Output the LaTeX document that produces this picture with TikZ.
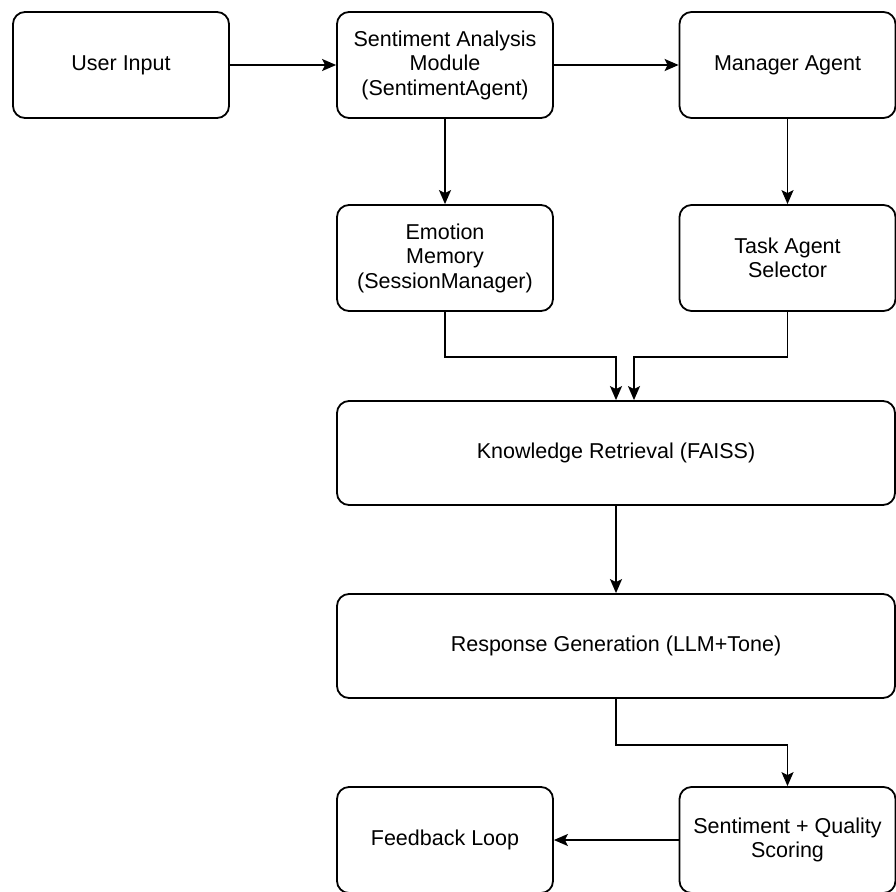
\documentclass[tikz,border=0pt]{standalone}
\usepackage{fontspec}
\setmainfont{Liberation Sans}
\usetikzlibrary{arrows.meta}

\tikzset{
  block/.style={draw, line width=1.8pt, rounded corners=12pt, minimum width=216pt, minimum height=106pt, align=center, inner sep=2pt, font=\fontsize{21.5}{24.5}\selectfont},
  wideblock/.style={block, minimum width=558pt, minimum height=104pt},
  flow/.style={line width=1.8pt, -{Stealth[length=14pt,width=12pt,inset=3pt]}}
}

\begin{document}
\begin{tikzpicture}[x=1pt,y=1pt,yscale=-1,xscale=1]
\useasboundingbox (0,0) rectangle (896,891);

% Top row
\node[block] (user) at (121,65) {User Input};
\node[block] (sent) at (445,65) {Sentiment Analysis\\Module\\(SentimentAgent)};
\node[block] (mgr) at (787.5,65) {Manager Agent};

% Second row
\node[block] (emo) at (445,258) {Emotion\\Memory\\(SessionManager)};
\node[block] (task) at (787.5,258) {Task Agent\\Selector};

% Wide stages
\node[wideblock] (know) at (616,453) {Knowledge Retrieval (FAISS)};
\node[wideblock] (resp) at (616,646) {Response Generation (LLM+Tone)};

% Bottom row
\node[block] (fb) at (445,840) {Feedback Loop};
\node[block] (score) at (787.5,840) {Sentiment + Quality\\Scoring};

% Connectors
\draw[flow] (user) -- (sent);
\draw[flow] (sent) -- (mgr);
\draw[flow] (sent) -- (emo);
\draw[flow] (mgr) -- (task);
\draw[flow] (emo.south) -- ++(0,45) -| (know.north);
\draw[flow] (task.south) -- ++(0,45) -| ([xshift=18pt]know.north);
\draw[flow] (know) -- (resp);
\draw[flow] (resp.south) -- ++(0,46) -| (score.north);
\draw[flow] (score) -- (fb);

\end{tikzpicture}
\end{document}
